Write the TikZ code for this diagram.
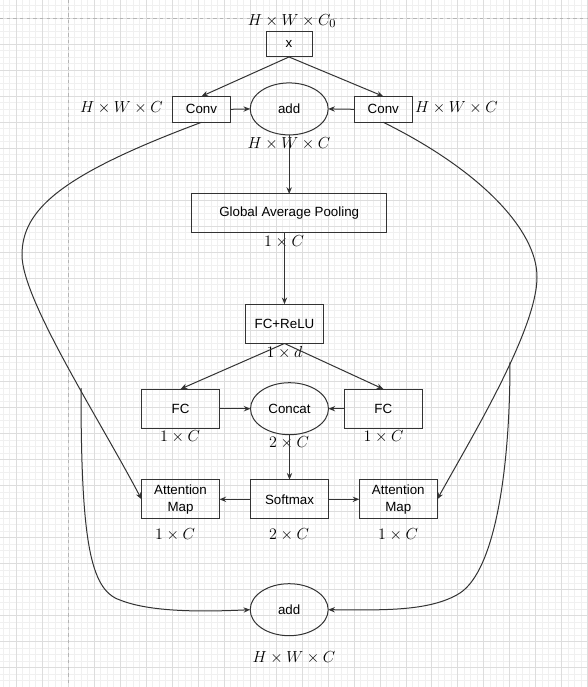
\documentclass[tikz,border=0pt]{standalone}
\usepackage{fontspec}
\setsansfont{Liberation Sans}
\usetikzlibrary{arrows.meta,shapes.geometric}
\definecolor{gridminor}{HTML}{F0F0F0}
\definecolor{gridmajor}{HTML}{DDDDDD}
\definecolor{pagedash}{HTML}{B4B4B4}
\definecolor{linegray}{HTML}{333333}

\begin{document}
\begin{tikzpicture}[x=0.75pt, y=-0.75pt,
  blk/.style={draw=linegray, line width=0.75pt, rectangle, inner sep=0pt, outer sep=0pt,
    font=\sffamily\fontsize{10}{12.5}\selectfont, align=center},
  stage/.style={blk, minimum width=58.5pt, minimum height=29.5pt},
  oval/.style={draw=linegray, line width=0.75pt, ellipse, inner sep=0pt, outer sep=0pt,
    minimum width=58.5pt, minimum height=39pt, font=\sffamily\fontsize{10}{12.5}\selectfont},
  dims/.style={inner sep=0pt, font=\fontsize{12.3}{14}\selectfont},
  flow/.style={draw=linegray, line width=0.75pt, -{Stealth[length=5pt,width=4pt]}}]
\useasboundingbox (0,0) rectangle (588,687);
\fill[white] (0,0) rectangle (588,687);

% page grid
\foreach \k in {-10,...,80} \draw[gridminor, line width=0.6pt] ({68.3+6.4925*\k},0) -- ({68.3+6.4925*\k},687);
\foreach \k in {-2,...,102} \draw[gridminor, line width=0.6pt] (0,{18.3+6.4925*\k}) -- (588,{18.3+6.4925*\k});
\foreach \k in {-2,...,20} \draw[gridmajor, line width=0.6pt] ({68.3+25.97*\k},0) -- ({68.3+25.97*\k},687);
\foreach \k in {0,...,25} \draw[gridmajor, line width=0.6pt] (0,{18.3+25.97*\k}) -- (588,{18.3+25.97*\k});
\draw[pagedash, line width=0.6pt, dash pattern=on 2.5pt off 2.5pt] (68.3,0) -- (68.3,687);
\draw[pagedash, line width=0.6pt, dash pattern=on 2.5pt off 2.5pt] (0,18.3) -- (588,18.3);

% input and the two convolutions
\node[blk, minimum width=34.5pt, minimum height=19pt] (x) at (289,44.3) {x};
\node[dims] (dx) at (292,21) {$H\times W\times C_0$};
\node[blk, minimum width=43.5pt, minimum height=19.5pt] (convl) at (201.5,109.3) {Conv};
\node[blk, minimum width=43.5pt, minimum height=19.5pt] (convr) at (383.3,109.3) {Conv};
\node[oval] (add1) at (289.2,108.9) {add};
\node[dims] (dconvl) at (121.5,108) {$H\times W\times C$};
\node[dims] (dconvr) at (456.5,108) {$H\times W\times C$};
\node[dims] (dadd1) at (289,144) {$H\times W\times C$};

% squeeze
\node[blk, minimum width=146.25pt, minimum height=29pt] (gap) at (289.2,213.3) {Global Average Pooling};
\node[dims] (dgap) at (284,242) {$1\times C$};
\node[stage] (fcr) at (284.5,323.8) {FC+ReLU};
\node[dims] (dfcr) at (284.5,353) {$1\times d$};

% select
\node[stage] (fcl) at (180.5,408.7) {FC};
\node[oval] (cat) at (289.5,408.7) {Concat};
\node[stage] (fcrt) at (383.3,408.7) {FC};
\node[dims] (dfcl) at (180,437) {$1\times C$};
\node[dims] (dcat) at (289,443) {$2\times C$};
\node[dims] (dfcrt) at (383.5,437) {$1\times C$};

\node[stage] (soft) at (289.5,499.3) {Softmax};
\node[stage] (aml) at (180.5,499.3) {Attention\\Map};
\node[stage] (amr) at (398.3,499.3) {Attention\\Map};
\node[dims] (daml) at (175,535) {$1\times C$};
\node[dims] (dsoft) at (289,535) {$2\times C$};
\node[dims] (damr) at (398,535) {$1\times C$};

\node[oval] (add2) at (289.2,609.7) {add};
\node[dims] (dadd2) at (294,658) {$H\times W\times C$};

\coordinate (bl) at (81,388);
\coordinate (br) at (510,362);

% connectors
\draw[flow] (x.south) -- (convl.north);
\draw[flow] (x.south) -- (convr.north);
\draw[flow] (convl.east) -- (add1.west);
\draw[flow] (convr.west) -- (add1.east);
\draw[flow] (add1.south) -- (gap.north -| add1.south);
\draw[flow] (gap.south -| fcr.north) -- (fcr.north);
\draw[flow] (fcr.south) -- (fcl.north);
\draw[flow] (fcr.south) -- (fcrt.north);
\draw[flow] (fcl.east) -- (cat.west);
\draw[flow] (fcrt.west) -- (cat.east);
\draw[flow] (cat.south) -- (soft.north);
\draw[flow] (soft.west) -- (aml.east);
\draw[flow] (soft.east) -- (amr.west);

\draw[flow] (convl.south) .. controls (60,175) and (22,210) .. (22,255)
  .. controls (22,300) and (100,420) .. (aml.west);
\draw[flow] (convr.south) .. controls (480,170) and (537,230) .. (537,277)
  .. controls (537,330) and (470,440) .. (amr.east);
\draw[flow] (bl) .. controls (81,540) and (90,590) .. (120,600)
  .. controls (150,612) and (200,612) .. (add2.west);
\draw[flow] (br) .. controls (510,470) and (495,570) .. (460,593)
  .. controls (430,612) and (380,610) .. (add2.east);
\end{tikzpicture}
\end{document}
